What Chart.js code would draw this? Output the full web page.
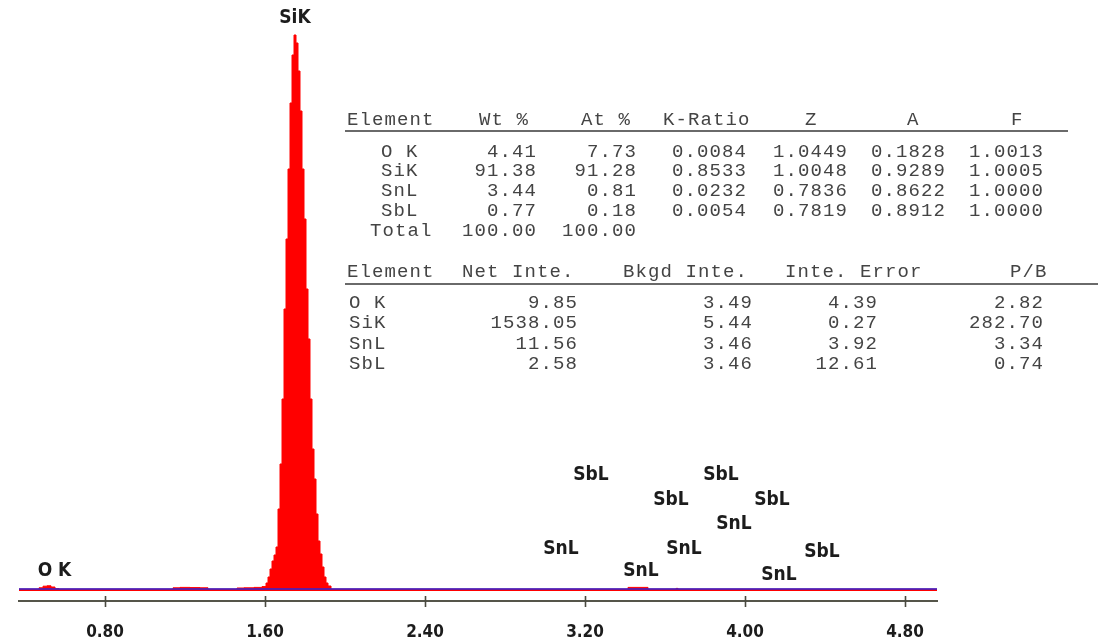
<!DOCTYPE html>
<html>
<head>
<meta charset="utf-8">
<script src="https://cdn.jsdelivr.net/npm/chart.js@4.4.1/dist/chart.umd.min.js"></script>
<style>
  html, body { margin: 0; padding: 0; background: #ffffff; }
  #wrap { position: relative; width: 1098px; height: 644px; overflow: hidden; background: #fff; }
  #chart { position: absolute; left: 0; top: 0; }
  .cell { position: absolute; font-family: "Liberation Mono", "DejaVu Sans Mono", monospace; font-size: 19px;
          line-height: 20px; letter-spacing: 1.1px; color: #444444; white-space: pre; }
  .rule { position: absolute; height: 1.5px; background: #6a6a6a; }
</style>
</head>
<body>
<div id="wrap">
  <canvas id="chart" width="1098" height="644"></canvas>
</div>
<script>
// ---------------- DATA ----------------
// Spectrum (energy in keV, counts)
const energies = [0.37, 0.46, 0.48, 0.50, 0.52, 0.54, 0.56, 0.58, 1.13, 1.15, 1.20, 1.25, 1.30, 1.33, 1.45, 1.47, 1.52, 1.57, 1.60,
  1.61, 1.62, 1.63, 1.64, 1.65, 1.66, 1.67, 1.68, 1.69, 1.70, 1.71, 1.72, 1.73, 1.74, 1.75, 1.76, 1.77, 1.78, 1.79, 1.80,
  1.81, 1.82, 1.83, 1.84, 1.85, 1.86, 1.87, 1.88, 1.89, 1.90, 1.91, 1.92, 1.94, 3.41, 3.42, 3.50, 3.53, 3.65, 3.66, 3.67, 4.96];
const counts = [10, 10, 16, 24, 26, 20, 12, 10, 10, 16, 18, 17, 16, 10, 10, 15, 16, 18, 22,
  40, 70, 110, 150, 180, 220, 410, 635, 960, 1410, 1760, 2110, 2440, 2680, 2780, 2740, 2600, 2400, 2110, 1860,
  1510, 1260, 960, 710, 560, 385, 250, 185, 120, 70, 40, 25, 10, 10, 18, 18, 10, 10, 13, 10, 10];
// Background line
const bgEnergies = [0.37, 4.96];
const bgCounts = [10, 10];
// Axis tick labels
const tickValues = [0.80, 1.60, 2.40, 3.20, 4.00, 4.80];
// Peak labels
const peakNames    = ['SiK', 'O K', 'SbL', 'SbL', 'SbL', 'SbL', 'SnL', 'SnL', 'SnL', 'SbL', 'SnL', 'SnL'];
const peakEnergies = [1.75, 0.5475, 3.23, 3.88, 3.63, 4.135, 3.945, 3.08, 3.695, 4.385, 3.48, 4.17];
const peakLevels   = [2867, 100, 580, 580, 455, 455, 335, 210, 210, 195, 100, 80];

// Quantification table 1
const t1Header = ['Element', 'Wt %', 'At %', 'K-Ratio', 'Z', 'A', 'F'];
const elements = ['O K', 'SiK', 'SnL', 'SbL'];
const wtPct  = [4.41, 91.38, 3.44, 0.77];
const atPct  = [7.73, 91.28, 0.81, 0.18];
const kRatio = [0.0084, 0.8533, 0.0232, 0.0054];
const zFac   = [1.0449, 1.0048, 0.7836, 0.7819];
const aFac   = [0.1828, 0.9289, 0.8622, 0.8912];
const fFac   = [1.0013, 1.0005, 1.0000, 1.0000];
const totalLabel = 'Total';
const wtTotal = 100.00, atTotal = 100.00;
// Quantification table 2
const t2Header = ['Element', 'Net Inte.', 'Bkgd Inte.', 'Inte. Error', 'P/B'];
const netInte  = [9.85, 1538.05, 11.56, 2.58];
const bkgdInte = [3.49, 5.44, 3.46, 3.46];
const inteErr  = [4.39, 0.27, 3.92, 12.61];
const pbRatio  = [2.82, 282.70, 3.34, 0.74];

// ---------------- TABLES (HTML text) ----------------
const wrap = document.getElementById('wrap');
function cell(text, x, cy, align) {
  const d = document.createElement('div');
  d.className = 'cell';
  d.textContent = text;
  d.style.top = (cy - 10) + 'px';
  if (align === 'right') { d.style.right = (1098 - x) + 'px'; d.style.textAlign = 'right'; }
  else { d.style.left = x + 'px'; }
  wrap.appendChild(d);
}
function rule(x1, x2, y) {
  const d = document.createElement('div');
  d.className = 'rule';
  d.style.left = x1 + 'px'; d.style.width = (x2 - x1) + 'px'; d.style.top = y + 'px';
  wrap.appendChild(d);
}
// table 1
const t1HeadX = [347, 479, 581, 663, 805, 907, 1011];
t1Header.forEach((h, i) => cell(h, t1HeadX[i], 120, 'left'));
rule(345, 1068, 130);
const t1RowY = [151.5, 171, 191, 211];
const t1Cols = [[wtPct, 2, 537], [atPct, 2, 637], [kRatio, 4, 747], [zFac, 4, 848], [aFac, 4, 946], [fFac, 4, 1044]];
elements.forEach((el, r) => {
  cell(el, 381, t1RowY[r], 'left');
  t1Cols.forEach(([arr, dec, rx]) => cell(arr[r].toFixed(dec), rx, t1RowY[r], 'right'));
});
cell(totalLabel, 370, 231, 'left');
cell(wtTotal.toFixed(2), 537, 231, 'right');
cell(atTotal.toFixed(2), 637, 231, 'right');
// table 2
const t2HeadX = [347, 462, 623, 785, 1010];
t2Header.forEach((h, i) => cell(h, t2HeadX[i], 272, 'left'));
rule(345, 1098, 283);
const t2RowY = [303, 323, 344, 364];
const t2Cols = [[netInte, 578], [bkgdInte, 753], [inteErr, 878], [pbRatio, 1044]];
elements.forEach((el, r) => {
  cell(el, 349, t2RowY[r], 'left');
  t2Cols.forEach(([arr, rx]) => cell(arr[r].toFixed(2), rx, t2RowY[r], 'right'));
});

// ---------------- CHART ----------------
const LABEL_FONT = '"DejaVu Sans Condensed", "DejaVu Sans", sans-serif';
const axisTicks = {
  id: 'axisTicks',
  afterDraw(chart) {
    const ctx = chart.ctx, xs = chart.scales.x, yb = chart.chartArea.bottom;
    ctx.save();
    ctx.strokeStyle = '#4a4a40';
    ctx.lineWidth = 1.6;
    ctx.beginPath();
    xs.ticks.forEach(t => {
      const px = Math.round(xs.getPixelForValue(t.value)) + 0.5;
      ctx.moveTo(px, yb - 5); ctx.lineTo(px, yb + 6);
    });
    ctx.stroke();
    ctx.restore();
  }
};
const peakLabelPlugin = {
  id: 'peakLabels',
  afterDraw(chart) {
    const ctx = chart.ctx, xs = chart.scales.x, ys = chart.scales.y;
    ctx.save();
    ctx.font = 'bold 19px ' + LABEL_FONT;
    ctx.fillStyle = '#1c1c1c';
    ctx.textAlign = 'center';
    ctx.textBaseline = 'middle';
    peakNames.forEach((n, i) => {
      ctx.fillText(n, xs.getPixelForValue(peakEnergies[i]), ys.getPixelForValue(peakLevels[i]));
    });
    ctx.restore();
  }
};

new Chart(document.getElementById('chart'), {
  type: 'line',
  data: {
    datasets: [
      {
        label: 'Background',
        data: bgEnergies.map((e, i) => ({ x: e, y: bgCounts[i] })),
        borderColor: 'rgba(45,35,215,0.75)',
        borderWidth: 2,
        pointRadius: 0,
        fill: false,
        order: 1
      },
      {
        label: 'Spectrum',
        data: energies.map((e, i) => ({ x: e, y: counts[i] })),
        borderColor: '#ff0000',
        backgroundColor: '#ff0000',
        borderWidth: 1,
        pointRadius: 0,
        stepped: 'middle',
        fill: 'origin',
        order: 2
      }
    ]
  },
  options: {
    responsive: false,
    animation: false,
    events: [],
    layout: { padding: { left: 19, right: 161, top: 5, bottom: 0 } },
    plugins: { legend: { display: false }, tooltip: { enabled: false } },
    scales: {
      x: {
        type: 'linear',
        min: 0.37,
        max: 4.96,
        afterBuildTicks: s => { s.ticks = tickValues.map(v => ({ value: v })); },
        afterFit: s => { s.height = 43; },
        grid: { display: true, drawOnChartArea: false, drawTicks: false },
        border: { display: true, color: '#55554a', width: 2 },
        ticks: {
          padding: 21,
          autoSkip: false,
          maxRotation: 0,
          color: '#1c1c1c',
          font: { family: LABEL_FONT, weight: 'bold', size: 17 },
          callback: v => Number(v).toFixed(2)
        }
      },
      y: { display: false, min: -50, max: 2930 }
    }
  },
  plugins: [axisTicks, peakLabelPlugin]
});
</script>
</body>
</html>
